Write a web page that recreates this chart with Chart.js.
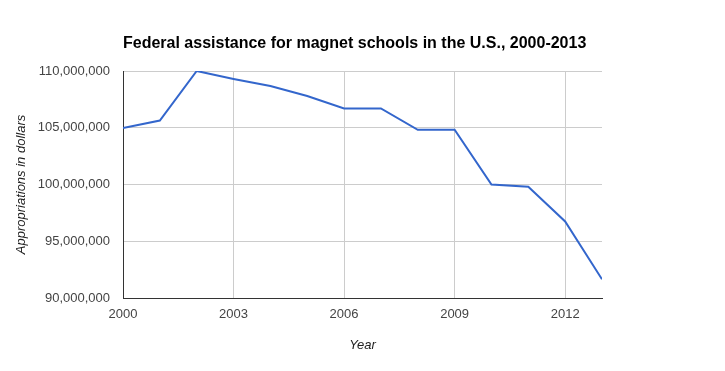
<html>
<head>
    <script src="https://cdn.jsdelivr.net/npm/chart.js"></script>
    <style>
        body { margin: 0; background: #fff; }
    </style>
</head>
<body>
    <canvas id="myChart" width="725" height="371"></canvas>
    <script>
        // 데이터
        const years = [2000, 2001, 2002, 2003, 2004, 2005, 2006, 2007, 2008, 2009, 2010, 2011, 2012, 2013];
        const appropriations = [104970000, 105640000, 110000000, 109300000, 108670000, 107800000, 106700000,
                                106700000, 104820000, 104820000, 100000000, 99800000, 96740000, 91650000];
        const xTickLabels = [2000, 2003, 2006, 2009, 2012];
        const yTickLabels = [90000000, 95000000, 100000000, 105000000, 110000000];

        const chartTitle = 'Federal assistance for magnet schools in the U.S., 2000-2013';
        const fontFamily = '"Liberation Sans", Arial, sans-serif';

        // 제목은 플롯 왼쪽 끝에 맞춰서 직접 그림
        const titlePlugin = {
            id: 'leftTitle',
            afterDraw(chart) {
                const ctx = chart.ctx;
                ctx.save();
                ctx.font = 'bold 16px ' + fontFamily;
                ctx.fillStyle = '#000';
                ctx.textAlign = 'left';
                ctx.textBaseline = 'middle';
                ctx.fillText(chartTitle, chart.chartArea.left, 44);
                ctx.restore();
            }
        };

        new Chart(document.getElementById('myChart'), {
            type: 'line',
            data: {
                datasets: [{
                    label: 'Appropriations',
                    data: years.map((y, i) => ({ x: y, y: appropriations[i] })),
                    borderColor: '#3366cc',
                    borderWidth: 2,
                    pointRadius: 0,
                    tension: 0,
                    fill: false
                }]
            },
            options: {
                responsive: false,
                animation: false,
                devicePixelRatio: 1,
                layout: { padding: { left: 0, right: 123, top: 71, bottom: 0 } },
                plugins: {
                    legend: { display: false },
                    tooltip: { enabled: false }
                },
                scales: {
                    x: {
                        type: 'linear',
                        min: 2000,
                        max: 2013,
                        afterBuildTicks: scale => { scale.ticks = xTickLabels.map(v => ({ value: v })); },
                        afterFit: scale => { scale.height = 73; },
                        grid: { color: '#cccccc', drawTicks: false },
                        border: { color: '#333333', width: 1 },
                        ticks: {
                            padding: 9,
                            maxRotation: 0,
                            color: '#444444',
                            font: { family: fontFamily, size: 13 },
                            callback: v => String(v)
                        },
                        title: {
                            display: true,
                            text: 'Year',
                            color: '#222222',
                            font: { family: fontFamily, size: 13, style: 'italic' },
                            padding: { top: 0, bottom: 18 }
                        }
                    },
                    y: {
                        min: 90000000,
                        max: 110000000,
                        afterBuildTicks: scale => { scale.ticks = yTickLabels.map(v => ({ value: v })); },
                        afterFit: scale => { scale.width = 123; },
                        grid: { color: '#cccccc', drawTicks: false },
                        border: { color: '#333333', width: 1 },
                        ticks: {
                            padding: 13,
                            color: '#444444',
                            font: { family: fontFamily, size: 13 },
                            callback: v => v.toLocaleString('en-US')
                        },
                        title: {
                            display: true,
                            text: 'Appropriations in dollars',
                            color: '#222222',
                            font: { family: fontFamily, size: 13, style: 'italic' },
                            padding: { top: 14, bottom: 0 }
                        }
                    }
                }
            },
            plugins: [titlePlugin]
        });
    </script>
</body>
</html>
